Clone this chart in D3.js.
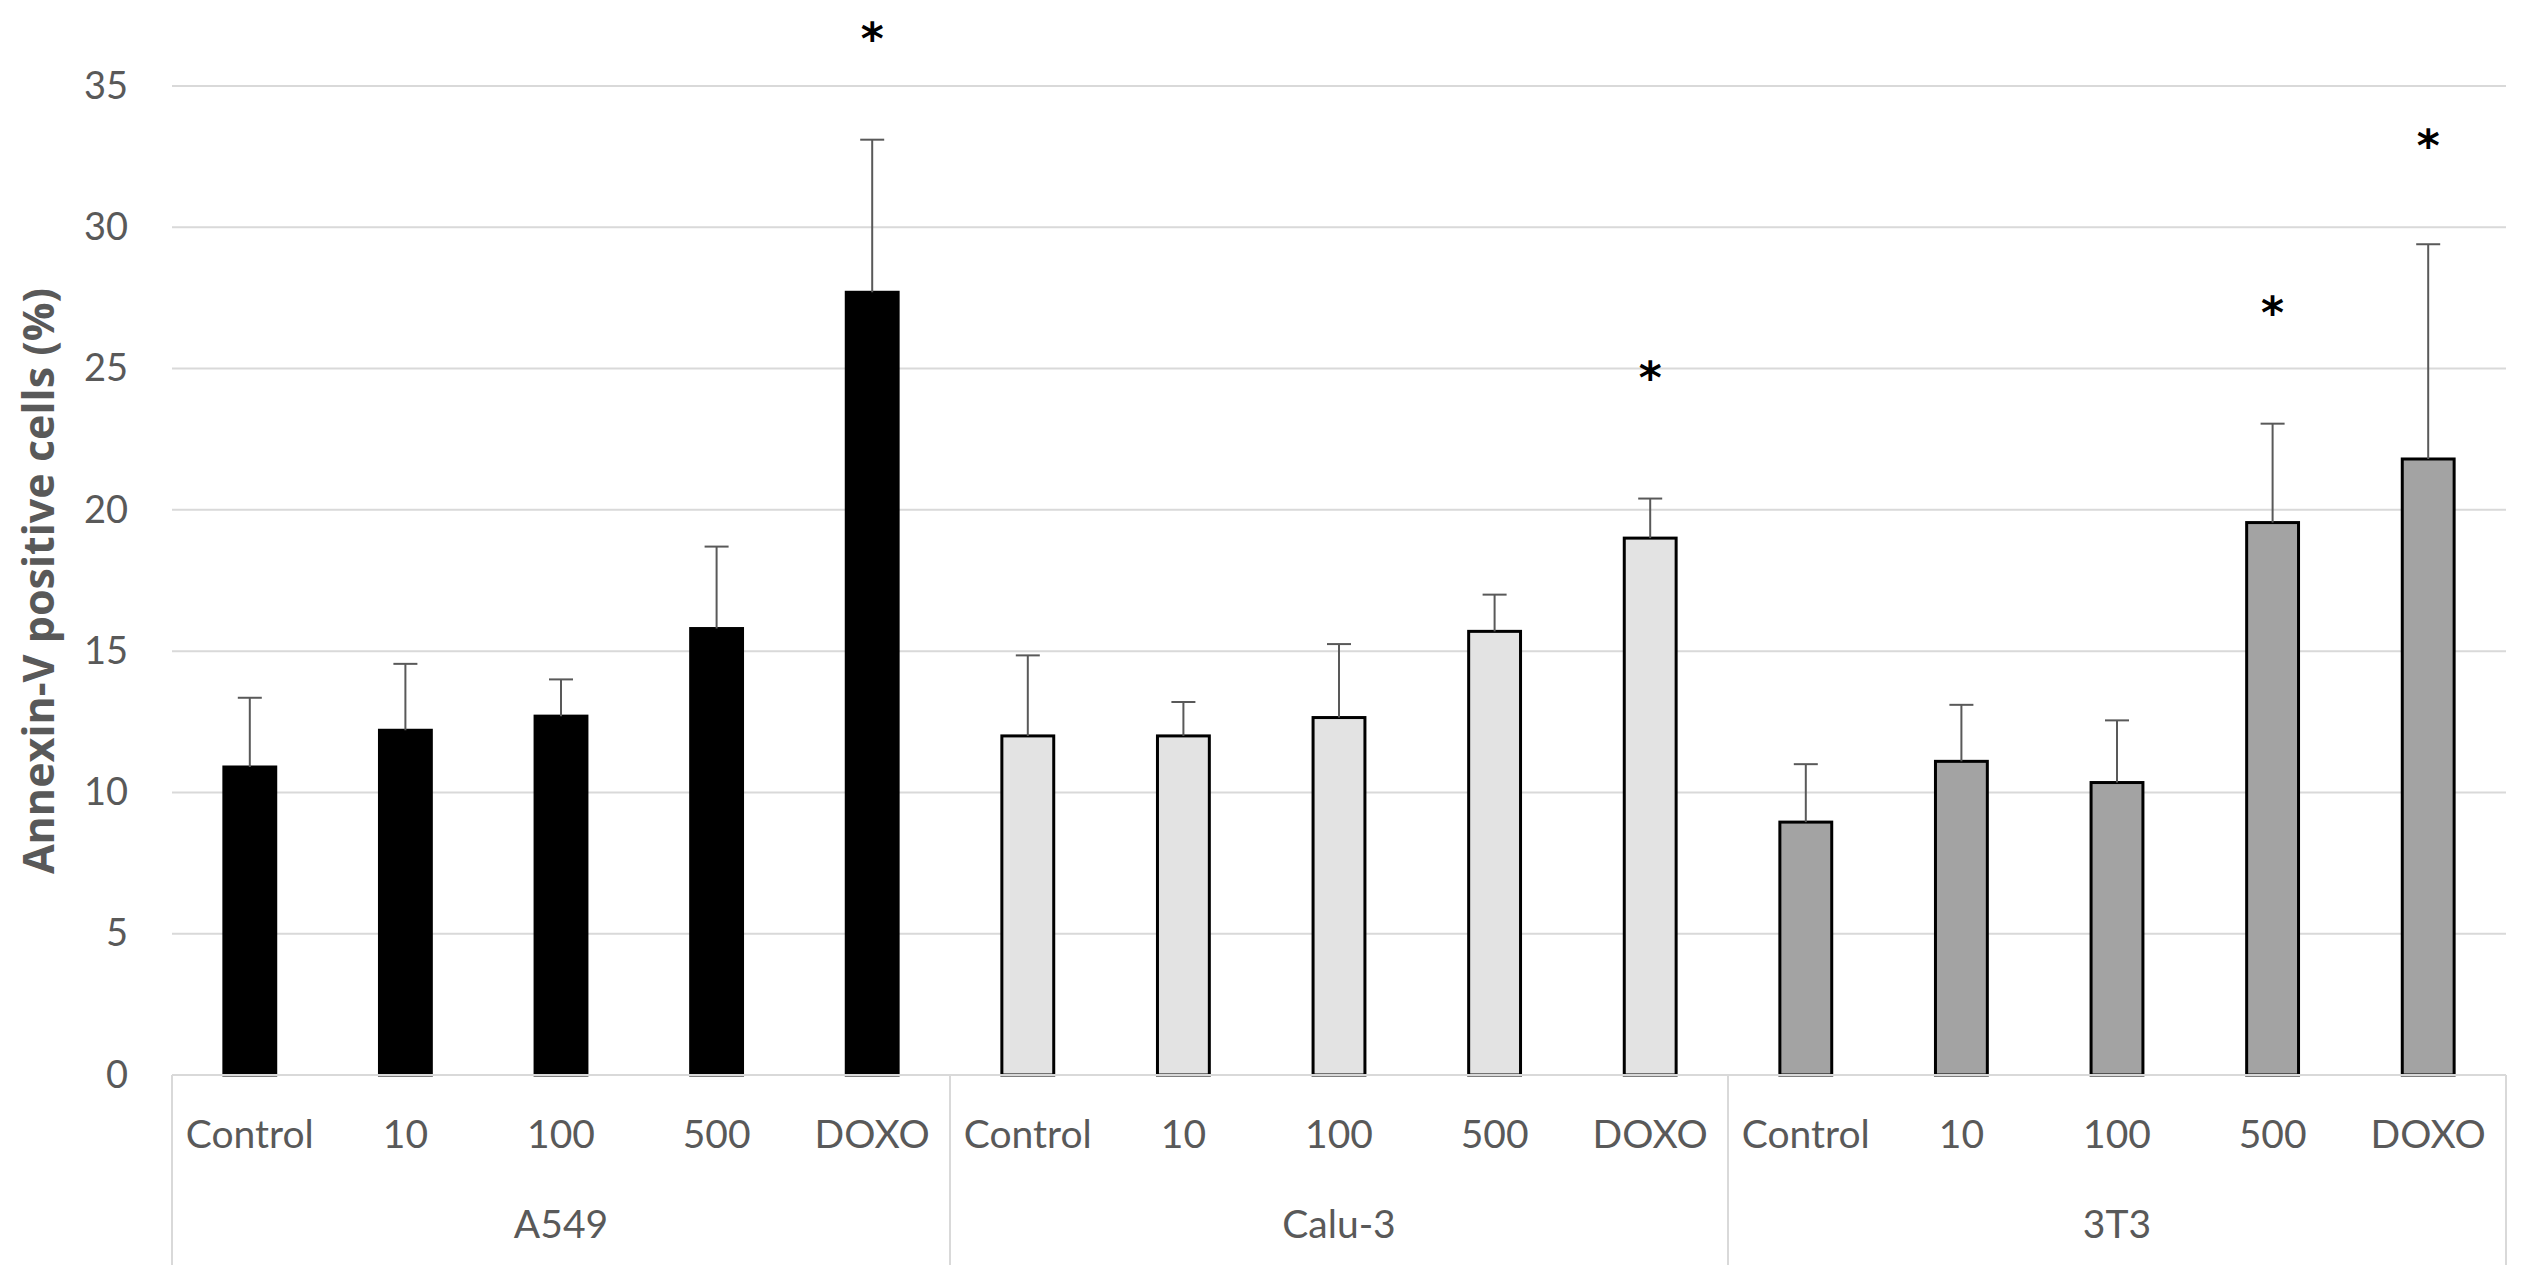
<!DOCTYPE html>
<html>
<head>
<meta charset="utf-8">
<script src="https://cdn.jsdelivr.net/npm/d3@7"></script>
<style>
  html, body { margin: 0; padding: 0; background: #ffffff; }
  svg { display: block; }
</style>
</head>
<body>
<svg id="chart" width="2531" height="1283"></svg>
<script>
// ---- Data ----
const groups = ["A549", "Calu-3", "3T3"];
const categories = ["Control", "10", "100", "500", "DOXO"];
const meanA549 = [10.9, 12.2, 12.7, 15.8, 27.7];
const meanCalu3 = [12.0, 12.0, 12.65, 15.7, 19.0];
const mean3T3 = [8.95, 11.1, 10.35, 19.55, 21.8];
const errA549 = [2.45, 2.35, 1.3, 2.9, 5.4];
const errCalu3 = [2.85, 1.2, 2.6, 1.3, 1.4];
const err3T3 = [2.05, 2.0, 2.2, 3.5, 7.6];
// significance stars: group, category, value position
const starGroups = ["A549", "Calu-3", "3T3", "3T3"];
const starCategories = ["DOXO", "DOXO", "500", "DOXO"];
const starValues = [37.0, 25.0, 27.3, 33.2];
const yTicks = [0, 5, 10, 15, 20, 25, 30, 35];
const yTitle = "Annexin-V positive cells (%)";

(function () {
// ---- Build table ----
const means = { "A549": meanA549, "Calu-3": meanCalu3, "3T3": mean3T3 };
const errs = { "A549": errA549, "Calu-3": errCalu3, "3T3": err3T3 };
const rows = [];
groups.forEach(g => categories.forEach((c, i) => rows.push({ group: g, cat: c, value: means[g][i], err: errs[g][i] })));
const stars = starGroups.map((g, i) => ({ group: g, cat: starCategories[i], value: starValues[i] }));

const fills = { "A549": "#000000", "Calu-3": "#e3e3e3", "3T3": "#a3a3a3" };

// ---- Layout ----
const pLeft = 172, pRight = 2506, pTop = 86, pBottom = 1075;
const svg = d3.select("#chart");

const y = d3.scaleLinear().domain([0, 35]).range([pBottom, pTop]);
const xGroup = d3.scaleBand().domain(groups).range([pLeft, pRight]).padding(0);
const xCat = d3.scaleBand().domain(categories).range([0, xGroup.bandwidth()])
  .paddingInner(2 / 3).paddingOuter(1 / 3);

// gridlines
svg.append("g").selectAll("line").data(yTicks.filter(t => t > 0)).join("line")
  .attr("x1", pLeft).attr("x2", pRight)
  .attr("y1", d => y(d)).attr("y2", d => y(d))
  .attr("stroke", "#d9d9d9").attr("stroke-width", 2);

// y axis labels
const yAxis = d3.axisLeft(y).tickValues(yTicks).tickSize(0).tickPadding(44);
const gy = svg.append("g").attr("transform", `translate(${pLeft},0)`).call(yAxis);
gy.select(".domain").remove();
gy.selectAll("text").attr("font-family", "Lato, sans-serif").attr("font-size", 38).attr("fill", "#595959");

// y title
svg.append("text")
  .attr("transform", `translate(54,${(287 + 875) / 2}) rotate(-90)`)
  .attr("text-anchor", "middle")
  .attr("font-family", "'Open Sans', sans-serif").attr("font-weight", "bold")
  .attr("font-size", 43).attr("fill", "#595959")
  .text(yTitle);

// bars
const cx = d => xGroup(d.group) + xCat(d.cat) + xCat.bandwidth() / 2;
svg.append("g").selectAll("rect").data(rows).join("rect")
  .attr("x", d => xGroup(d.group) + xCat(d.cat))
  .attr("width", xCat.bandwidth())
  .attr("y", d => y(d.value))
  .attr("height", d => y(0) - y(d.value))
  .attr("fill", d => fills[d.group])
  .attr("stroke", "#000000").attr("stroke-width", 3);

// error bars
const capW = 24;
const errG = svg.append("g").attr("stroke", "#595959").attr("stroke-width", 2);
errG.selectAll("line.v").data(rows).join("line").attr("class", "v")
  .attr("x1", cx).attr("x2", cx)
  .attr("y1", d => y(d.value)).attr("y2", d => y(d.value + d.err));
errG.selectAll("line.c").data(rows).join("line").attr("class", "c")
  .attr("x1", d => cx(d) - capW / 2).attr("x2", d => cx(d) + capW / 2)
  .attr("y1", d => y(d.value + d.err)).attr("y2", d => y(d.value + d.err));

// x axis line
svg.append("line").attr("x1", pLeft).attr("x2", pRight).attr("y1", pBottom).attr("y2", pBottom)
  .attr("stroke", "#d9d9d9").attr("stroke-width", 2);

// group separators
const seps = groups.map(g => xGroup(g)).concat([pRight]);
svg.append("g").selectAll("line").data(seps).join("line")
  .attr("x1", d => d).attr("x2", d => d)
  .attr("y1", pBottom).attr("y2", 1265)
  .attr("stroke", "#d9d9d9").attr("stroke-width", 2);

// category labels
svg.append("g").selectAll("text").data(rows).join("text")
  .attr("x", cx).attr("y", 1148)
  .attr("text-anchor", "middle")
  .attr("font-family", "Lato, sans-serif").attr("font-size", 39).attr("fill", "#595959")
  .text(d => d.cat);

// group labels
svg.append("g").selectAll("text").data(groups).join("text")
  .attr("x", g => xGroup(g) + xGroup.bandwidth() / 2).attr("y", 1238)
  .attr("text-anchor", "middle")
  .attr("font-family", "Lato, sans-serif").attr("font-size", 39).attr("fill", "#595959")
  .text(g => g);

// stars
const starFs = 44;
svg.append("g").selectAll("text").data(stars).join("text")
  .attr("x", d => xGroup(d.group) + xCat(d.cat) + xCat.bandwidth() / 2)
  .attr("y", d => y(d.value) + 0.55 * starFs)
  .attr("text-anchor", "middle")
  .attr("font-family", "'DejaVu Sans', sans-serif").attr("font-weight", "bold")
  .attr("font-size", starFs).attr("fill", "#000000")
  .text("*");
})();
</script>
</body>
</html>
